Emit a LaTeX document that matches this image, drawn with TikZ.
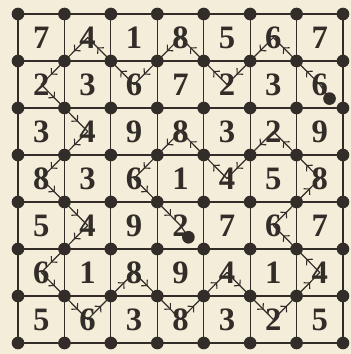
\documentclass[tikz,border=0pt]{standalone}
\usepackage{fontspec}
\setmainfont{Liberation Serif}
\usetikzlibrary{arrows.meta,decorations.markings}

\definecolor{paper}{RGB}{244,237,217}
\definecolor{ink}{RGB}{50,45,40}

\begin{document}
\begin{tikzpicture}[x=34.82pt,y=-35.25pt]
\tikzset{
  numcell/.style={inner sep=0pt,text=ink,font=\fontsize{24.5}{24.5}\selectfont\bfseries},
  gridline/.style={draw=ink,line width=0.9pt},
  gridpoint/.style={circle,fill=ink,inner sep=0pt,minimum size=9.5pt},
  route/.style={draw=ink,line width=0.9pt,line cap=round,postaction={decorate},
    decoration={markings,
      mark=at position 0.29 with {\arrow[ink]{Straight Barb[length=3pt,width=6.5pt,line width=0.8pt]}},
      mark=at position 0.79 with {\arrow[ink]{Straight Barb[length=3pt,width=6.5pt,line width=0.8pt]}}}}
}
% paper
\fill[paper] (-0.388,-0.298) rectangle (7.172,7.234);
% grid
\foreach \i in {0,...,7} {
  \draw[gridline] (\i,0) -- (\i,7);
  \draw[gridline] (0,\i) -- (7,\i);
}
% numbers
\foreach \row [count=\r] in {{7,4,1,8,5,6,7},{2,3,6,7,2,3,6},{3,4,9,8,3,2,9},
    {8,3,6,1,4,5,8},{5,4,9,2,7,6,7},{6,1,8,9,4,1,4},{5,6,3,8,3,2,5}}
  \foreach \v [count=\c] in \row
    \node[numcell] (n_\r\c) at (\c-0.5,\r-0.5) {\v};
% ends of the route
\coordinate (start) at (6.71,1.8);
\coordinate (stop) at (3.67,4.75);
% route
\draw[ink,line width=0.9pt] (start) -- (n_27.center);
\draw[route] (n_27.center) -- (n_16.center);
\draw[route] (n_16.center) -- (n_25.center);
\draw[route] (n_25.center) -- (n_14.center);
\draw[route] (n_14.center) -- (n_23.center);
\draw[route] (n_23.center) -- (n_12.center);
\draw[route] (n_12.center) -- (n_21.center);
\draw[route] (n_21.center) -- (n_32.center);
\draw[route] (n_32.center) -- (n_41.center);
\draw[route] (n_41.center) -- (n_52.center);
\draw[route] (n_52.center) -- (n_61.center);
\draw[route] (n_61.center) -- (n_72.center);
\draw[route] (n_72.center) -- (n_63.center);
\draw[route] (n_63.center) -- (n_74.center);
\draw[route] (n_74.center) -- (n_65.center);
\draw[route] (n_65.center) -- (n_76.center);
\draw[route] (n_76.center) -- (n_67.center);
\draw[route] (n_67.center) -- (n_56.center);
\draw[route] (n_56.center) -- (n_47.center);
\draw[route] (n_47.center) -- (n_36.center);
\draw[route] (n_36.center) -- (n_45.center);
\draw[route] (n_45.center) -- (n_34.center);
\draw[route] (n_34.center) -- (n_43.center);
\draw[route] (n_43.center) -- (n_54.center);
\draw[ink,line width=0.9pt] (n_54.center) -- (stop);
% points
\foreach \i in {0,...,7}
  \foreach \j in {0,...,7}
    \node[gridpoint] (d_\i\j) at (\i,\j) {};
\node[gridpoint] (d_start) at (start) {};
\node[gridpoint] (d_stop) at (stop) {};
\end{tikzpicture}
\end{document}
